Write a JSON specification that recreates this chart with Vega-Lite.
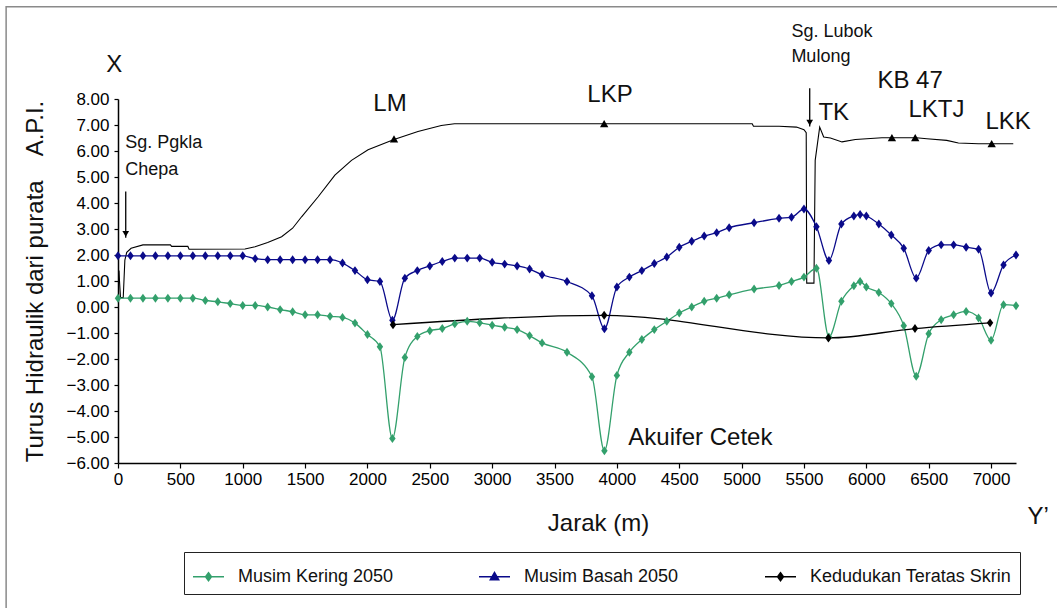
{
  "$schema": "https://vega.github.io/schema/vega-lite/v6.json",
  "autosize": {"type": "none"},
  "padding": {"left": 118, "top": 99, "right": 41, "bottom": 145},
  "width": 898,
  "height": 364,
  "background": "white",
  "config": {
    "view": {"stroke": null},
    "font": "Liberation Sans",
    "axis": {"grid": false, "domainColor": "#000", "domainWidth": 1.5, "tickColor": "#000", "tickWidth": 1.2, "labelFont": "Liberation Sans", "labelFontSize": 17, "labelColor": "#000", "titleFont": "Liberation Sans", "titleFontSize": 24, "titleFontWeight": "normal", "titleColor": "#111", "labelOverlap": false}
  },
  "datasets": {
    "kepala": [
      {"jarak": 0, "turus": 0.34, "siri": "Musim Kering 2050"},
      {"jarak": 100, "turus": 0.34, "siri": "Musim Kering 2050"},
      {"jarak": 200, "turus": 0.34, "siri": "Musim Kering 2050"},
      {"jarak": 300, "turus": 0.34, "siri": "Musim Kering 2050"},
      {"jarak": 400, "turus": 0.34, "siri": "Musim Kering 2050"},
      {"jarak": 500, "turus": 0.34, "siri": "Musim Kering 2050"},
      {"jarak": 600, "turus": 0.34, "siri": "Musim Kering 2050"},
      {"jarak": 700, "turus": 0.25, "siri": "Musim Kering 2050"},
      {"jarak": 800, "turus": 0.2, "siri": "Musim Kering 2050"},
      {"jarak": 900, "turus": 0.13, "siri": "Musim Kering 2050"},
      {"jarak": 1000, "turus": 0.06, "siri": "Musim Kering 2050"},
      {"jarak": 1100, "turus": 0.06, "siri": "Musim Kering 2050"},
      {"jarak": 1200, "turus": 0.0, "siri": "Musim Kering 2050"},
      {"jarak": 1300, "turus": -0.1, "siri": "Musim Kering 2050"},
      {"jarak": 1400, "turus": -0.18, "siri": "Musim Kering 2050"},
      {"jarak": 1500, "turus": -0.3, "siri": "Musim Kering 2050"},
      {"jarak": 1600, "turus": -0.3, "siri": "Musim Kering 2050"},
      {"jarak": 1700, "turus": -0.36, "siri": "Musim Kering 2050"},
      {"jarak": 1800, "turus": -0.4, "siri": "Musim Kering 2050"},
      {"jarak": 1900, "turus": -0.62, "siri": "Musim Kering 2050"},
      {"jarak": 2000, "turus": -1.06, "siri": "Musim Kering 2050"},
      {"jarak": 2100, "turus": -1.53, "siri": "Musim Kering 2050"},
      {"jarak": 2200, "turus": -5.06, "siri": "Musim Kering 2050"},
      {"jarak": 2300, "turus": -1.94, "siri": "Musim Kering 2050"},
      {"jarak": 2400, "turus": -1.13, "siri": "Musim Kering 2050"},
      {"jarak": 2500, "turus": -0.91, "siri": "Musim Kering 2050"},
      {"jarak": 2600, "turus": -0.83, "siri": "Musim Kering 2050"},
      {"jarak": 2700, "turus": -0.65, "siri": "Musim Kering 2050"},
      {"jarak": 2800, "turus": -0.55, "siri": "Musim Kering 2050"},
      {"jarak": 2900, "turus": -0.61, "siri": "Musim Kering 2050"},
      {"jarak": 3000, "turus": -0.7, "siri": "Musim Kering 2050"},
      {"jarak": 3100, "turus": -0.78, "siri": "Musim Kering 2050"},
      {"jarak": 3200, "turus": -0.87, "siri": "Musim Kering 2050"},
      {"jarak": 3300, "turus": -1.1, "siri": "Musim Kering 2050"},
      {"jarak": 3400, "turus": -1.38, "siri": "Musim Kering 2050"},
      {"jarak": 3600, "turus": -1.74, "siri": "Musim Kering 2050"},
      {"jarak": 3800, "turus": -2.68, "siri": "Musim Kering 2050"},
      {"jarak": 3900, "turus": -5.53, "siri": "Musim Kering 2050"},
      {"jarak": 4000, "turus": -2.63, "siri": "Musim Kering 2050"},
      {"jarak": 4100, "turus": -1.74, "siri": "Musim Kering 2050"},
      {"jarak": 4200, "turus": -1.25, "siri": "Musim Kering 2050"},
      {"jarak": 4300, "turus": -0.87, "siri": "Musim Kering 2050"},
      {"jarak": 4400, "turus": -0.55, "siri": "Musim Kering 2050"},
      {"jarak": 4500, "turus": -0.23, "siri": "Musim Kering 2050"},
      {"jarak": 4600, "turus": 0.0, "siri": "Musim Kering 2050"},
      {"jarak": 4700, "turus": 0.22, "siri": "Musim Kering 2050"},
      {"jarak": 4800, "turus": 0.34, "siri": "Musim Kering 2050"},
      {"jarak": 4900, "turus": 0.47, "siri": "Musim Kering 2050"},
      {"jarak": 5100, "turus": 0.69, "siri": "Musim Kering 2050"},
      {"jarak": 5300, "turus": 0.83, "siri": "Musim Kering 2050"},
      {"jarak": 5400, "turus": 0.98, "siri": "Musim Kering 2050"},
      {"jarak": 5500, "turus": 1.15, "siri": "Musim Kering 2050"},
      {"jarak": 5600, "turus": 1.49, "siri": "Musim Kering 2050"},
      {"jarak": 5700, "turus": -1.15, "siri": "Musim Kering 2050"},
      {"jarak": 5800, "turus": 0.22, "siri": "Musim Kering 2050"},
      {"jarak": 5900, "turus": 0.82, "siri": "Musim Kering 2050"},
      {"jarak": 5950, "turus": 0.98, "siri": "Musim Kering 2050"},
      {"jarak": 6000, "turus": 0.77, "siri": "Musim Kering 2050"},
      {"jarak": 6100, "turus": 0.56, "siri": "Musim Kering 2050"},
      {"jarak": 6200, "turus": 0.13, "siri": "Musim Kering 2050"},
      {"jarak": 6300, "turus": -0.72, "siri": "Musim Kering 2050"},
      {"jarak": 6400, "turus": -2.66, "siri": "Musim Kering 2050"},
      {"jarak": 6500, "turus": -1.03, "siri": "Musim Kering 2050"},
      {"jarak": 6600, "turus": -0.49, "siri": "Musim Kering 2050"},
      {"jarak": 6700, "turus": -0.3, "siri": "Musim Kering 2050"},
      {"jarak": 6800, "turus": -0.17, "siri": "Musim Kering 2050"},
      {"jarak": 6900, "turus": -0.42, "siri": "Musim Kering 2050"},
      {"jarak": 7000, "turus": -1.28, "siri": "Musim Kering 2050"},
      {"jarak": 7100, "turus": 0.09, "siri": "Musim Kering 2050"},
      {"jarak": 7200, "turus": 0.05, "siri": "Musim Kering 2050"},
      {"jarak": 0, "turus": 1.97, "siri": "Musim Basah 2050"},
      {"jarak": 100, "turus": 1.97, "siri": "Musim Basah 2050"},
      {"jarak": 200, "turus": 1.97, "siri": "Musim Basah 2050"},
      {"jarak": 300, "turus": 1.97, "siri": "Musim Basah 2050"},
      {"jarak": 400, "turus": 1.97, "siri": "Musim Basah 2050"},
      {"jarak": 500, "turus": 1.97, "siri": "Musim Basah 2050"},
      {"jarak": 600, "turus": 1.97, "siri": "Musim Basah 2050"},
      {"jarak": 700, "turus": 1.97, "siri": "Musim Basah 2050"},
      {"jarak": 800, "turus": 1.97, "siri": "Musim Basah 2050"},
      {"jarak": 900, "turus": 1.97, "siri": "Musim Basah 2050"},
      {"jarak": 1000, "turus": 1.97, "siri": "Musim Basah 2050"},
      {"jarak": 1100, "turus": 1.86, "siri": "Musim Basah 2050"},
      {"jarak": 1200, "turus": 1.82, "siri": "Musim Basah 2050"},
      {"jarak": 1300, "turus": 1.82, "siri": "Musim Basah 2050"},
      {"jarak": 1400, "turus": 1.82, "siri": "Musim Basah 2050"},
      {"jarak": 1500, "turus": 1.82, "siri": "Musim Basah 2050"},
      {"jarak": 1600, "turus": 1.82, "siri": "Musim Basah 2050"},
      {"jarak": 1700, "turus": 1.82, "siri": "Musim Basah 2050"},
      {"jarak": 1800, "turus": 1.69, "siri": "Musim Basah 2050"},
      {"jarak": 1900, "turus": 1.4, "siri": "Musim Basah 2050"},
      {"jarak": 2000, "turus": 1.05, "siri": "Musim Basah 2050"},
      {"jarak": 2100, "turus": 0.98, "siri": "Musim Basah 2050"},
      {"jarak": 2200, "turus": -0.51, "siri": "Musim Basah 2050"},
      {"jarak": 2300, "turus": 1.11, "siri": "Musim Basah 2050"},
      {"jarak": 2400, "turus": 1.4, "siri": "Musim Basah 2050"},
      {"jarak": 2500, "turus": 1.58, "siri": "Musim Basah 2050"},
      {"jarak": 2600, "turus": 1.75, "siri": "Musim Basah 2050"},
      {"jarak": 2700, "turus": 1.88, "siri": "Musim Basah 2050"},
      {"jarak": 2800, "turus": 1.88, "siri": "Musim Basah 2050"},
      {"jarak": 2900, "turus": 1.88, "siri": "Musim Basah 2050"},
      {"jarak": 3000, "turus": 1.72, "siri": "Musim Basah 2050"},
      {"jarak": 3100, "turus": 1.65, "siri": "Musim Basah 2050"},
      {"jarak": 3200, "turus": 1.58, "siri": "Musim Basah 2050"},
      {"jarak": 3300, "turus": 1.46, "siri": "Musim Basah 2050"},
      {"jarak": 3400, "turus": 1.24, "siri": "Musim Basah 2050"},
      {"jarak": 3600, "turus": 0.98, "siri": "Musim Basah 2050"},
      {"jarak": 3800, "turus": 0.43, "siri": "Musim Basah 2050"},
      {"jarak": 3900, "turus": -0.84, "siri": "Musim Basah 2050"},
      {"jarak": 4000, "turus": 0.77, "siri": "Musim Basah 2050"},
      {"jarak": 4100, "turus": 1.15, "siri": "Musim Basah 2050"},
      {"jarak": 4200, "turus": 1.4, "siri": "Musim Basah 2050"},
      {"jarak": 4300, "turus": 1.67, "siri": "Musim Basah 2050"},
      {"jarak": 4400, "turus": 1.92, "siri": "Musim Basah 2050"},
      {"jarak": 4500, "turus": 2.3, "siri": "Musim Basah 2050"},
      {"jarak": 4600, "turus": 2.53, "siri": "Musim Basah 2050"},
      {"jarak": 4700, "turus": 2.73, "siri": "Musim Basah 2050"},
      {"jarak": 4800, "turus": 2.86, "siri": "Musim Basah 2050"},
      {"jarak": 4900, "turus": 3.05, "siri": "Musim Basah 2050"},
      {"jarak": 5100, "turus": 3.24, "siri": "Musim Basah 2050"},
      {"jarak": 5300, "turus": 3.41, "siri": "Musim Basah 2050"},
      {"jarak": 5400, "turus": 3.45, "siri": "Musim Basah 2050"},
      {"jarak": 5500, "turus": 3.77, "siri": "Musim Basah 2050"},
      {"jarak": 5600, "turus": 3.09, "siri": "Musim Basah 2050"},
      {"jarak": 5700, "turus": 1.79, "siri": "Musim Basah 2050"},
      {"jarak": 5800, "turus": 3.19, "siri": "Musim Basah 2050"},
      {"jarak": 5900, "turus": 3.5, "siri": "Musim Basah 2050"},
      {"jarak": 5950, "turus": 3.56, "siri": "Musim Basah 2050"},
      {"jarak": 6000, "turus": 3.5, "siri": "Musim Basah 2050"},
      {"jarak": 6100, "turus": 3.19, "siri": "Musim Basah 2050"},
      {"jarak": 6200, "turus": 2.77, "siri": "Musim Basah 2050"},
      {"jarak": 6300, "turus": 2.26, "siri": "Musim Basah 2050"},
      {"jarak": 6400, "turus": 1.11, "siri": "Musim Basah 2050"},
      {"jarak": 6500, "turus": 2.17, "siri": "Musim Basah 2050"},
      {"jarak": 6600, "turus": 2.39, "siri": "Musim Basah 2050"},
      {"jarak": 6700, "turus": 2.39, "siri": "Musim Basah 2050"},
      {"jarak": 6800, "turus": 2.3, "siri": "Musim Basah 2050"},
      {"jarak": 6900, "turus": 2.22, "siri": "Musim Basah 2050"},
      {"jarak": 7000, "turus": 0.54, "siri": "Musim Basah 2050"},
      {"jarak": 7100, "turus": 1.62, "siri": "Musim Basah 2050"},
      {"jarak": 7200, "turus": 2.0, "siri": "Musim Basah 2050"},
      {"jarak": 2205, "turus": -0.68, "siri": "Kedudukan Teratas Skrin"},
      {"jarak": 3898, "turus": -0.32, "siri": "Kedudukan Teratas Skrin"},
      {"jarak": 5696, "turus": -1.19, "siri": "Kedudukan Teratas Skrin"},
      {"jarak": 6390, "turus": -0.83, "siri": "Kedudukan Teratas Skrin"},
      {"jarak": 6992, "turus": -0.61, "siri": "Kedudukan Teratas Skrin"}
    ],
    "permukaan": [
      {"jarak": 8, "turus": 1.4}, {"jarak": 12, "turus": 1.0}, {"jarak": 20, "turus": 0.36},
      {"jarak": 42, "turus": 0.36}, {"jarak": 55, "turus": 1.8}, {"jarak": 70, "turus": 2.1},
      {"jarak": 105, "turus": 2.26}, {"jarak": 200, "turus": 2.39}, {"jarak": 420, "turus": 2.39},
      {"jarak": 430, "turus": 2.33}, {"jarak": 560, "turus": 2.33}, {"jarak": 570, "turus": 2.22},
      {"jarak": 1018, "turus": 2.23}, {"jarak": 1099, "turus": 2.32}, {"jarak": 1200, "turus": 2.48},
      {"jarak": 1312, "turus": 2.7}, {"jarak": 1400, "turus": 3.03}, {"jarak": 1472, "turus": 3.47},
      {"jarak": 1605, "turus": 4.24}, {"jarak": 1739, "turus": 5.07}, {"jarak": 1872, "turus": 5.64},
      {"jarak": 2005, "turus": 6.05}, {"jarak": 2213, "turus": 6.44}, {"jarak": 2405, "turus": 6.75},
      {"jarak": 2592, "turus": 6.98}, {"jarak": 2698, "turus": 7.05}, {"jarak": 5085, "turus": 7.05},
      {"jarak": 5095, "turus": 6.95}, {"jarak": 5300, "turus": 6.95}, {"jarak": 5440, "turus": 6.92},
      {"jarak": 5500, "turus": 6.82}, {"jarak": 5518, "turus": 6.7}, {"jarak": 5522, "turus": 0.92},
      {"jarak": 5580, "turus": 0.92}, {"jarak": 5590, "turus": 5.64}, {"jarak": 5626, "turus": 6.92},
      {"jarak": 5658, "turus": 6.54}, {"jarak": 5712, "turus": 6.5}, {"jarak": 5805, "turus": 6.35},
      {"jarak": 5912, "turus": 6.44}, {"jarak": 6125, "turus": 6.51}, {"jarak": 6400, "turus": 6.51},
      {"jarak": 6485, "turus": 6.47}, {"jarak": 6645, "turus": 6.41}, {"jarak": 6738, "turus": 6.31},
      {"jarak": 6898, "turus": 6.28}, {"jarak": 7178, "turus": 6.28}
    ],
    "telaga": [
      {"jarak": 2213, "turus": 6.47, "nama": "LM"},
      {"jarak": 3898, "turus": 7.05, "nama": "LKP"},
      {"jarak": 6205, "turus": 6.51, "nama": "KB 47"},
      {"jarak": 6392, "turus": 6.51, "nama": "LKTJ"},
      {"jarak": 7005, "turus": 6.28, "nama": "LKK"}
    ],
    "panah": [
      {"jarak": 62, "turus": 4.44, "turus2": 2.66, "nama": "Sg. Pgkla Chepa"},
      {"jarak": 5546, "turus": 8.41, "turus2": 6.94, "nama": "Sg. Lubok Mulong"}
    ],
    "label": [
      {"jarak": -95, "turus": 9.31, "teks": "X", "jenis": "utama"},
      {"jarak": 58, "turus": 6.31, "teks": "Sg. Pgkla", "jenis": "sungai"},
      {"jarak": 58, "turus": 5.27, "teks": "Chepa", "jenis": "sungai"},
      {"jarak": 2047, "turus": 7.81, "teks": "LM", "jenis": "utama"},
      {"jarak": 3763, "turus": 8.16, "teks": "LKP", "jenis": "utama"},
      {"jarak": 5399, "turus": 10.58, "teks": "Sg. Lubok", "jenis": "sungai"},
      {"jarak": 5399, "turus": 9.62, "teks": "Mulong", "jenis": "sungai"},
      {"jarak": 5616, "turus": 7.46, "teks": "TK", "jenis": "utama"},
      {"jarak": 6089, "turus": 8.69, "teks": "KB 47", "jenis": "utama"},
      {"jarak": 6338, "turus": 7.58, "teks": "LKTJ", "jenis": "utama"},
      {"jarak": 6955, "turus": 7.12, "teks": "LKK", "jenis": "utama"},
      {"jarak": 4092, "turus": -5.03, "teks": "Akuifer Cetek", "jenis": "utama"},
      {"jarak": 7292, "turus": -8.06, "teks": "Y’", "jenis": "utama"}
    ],
    "bingkai": [
      {"jarak": -897, "jarak2": 7700, "turus": 11.55, "turus2": -12.5}
    ]
  },
  "encoding": {
    "x": {
      "field": "jarak", "type": "quantitative", "title": "Jarak (m)",
      "scale": {"domain": [0, 7200], "nice": false, "zero": false},
      "axis": {"values": [0, 500, 1000, 1500, 2000, 2500, 3000, 3500, 4000, 4500, 5000, 5500, 6000, 6500, 7000], "tickCount": 30, "format": "d", "tickSize": 5, "labelPadding": 3, "labelFlush": false, "labelOverlap": false, "titleX": 480, "titleY": 60, "titleBaseline": "middle", "titleAlign": "center"}
    },
    "y": {
      "field": "turus", "type": "quantitative", "title": "Turus Hidraulik dari purata\u2003A.P.I.",
      "scale": {"domain": [-6, 8], "nice": false, "zero": false},
      "axis": {"values": [-6, -5, -4, -3, -2, -1, 0, 1, 2, 3, 4, 5, 6, 7, 8], "tickCount": 30, "format": ".2f", "tickSize": 4, "labelPadding": 5, "labelOverlap": false, "titleX": -83, "titleY": 182, "titleBaseline": "middle", "titleAlign": "center", "titleAngle": -90}
    }
  },
  "layer": [
    {
      "data": {"name": "bingkai"},
      "mark": {"type": "rect", "fill": null, "fillOpacity": 0, "stroke": "#8a8a8a", "strokeWidth": 1.5},
      "encoding": {
        "x2": {"field": "jarak2"},
        "y2": {"field": "turus2"}
      }
    },
    {
      "data": {"name": "permukaan"},
      "mark": {"type": "line", "color": "#000", "strokeWidth": 1.1}
    },
    {
      "data": {"name": "kepala"},
      "mark": {"type": "line", "interpolate": "monotone", "strokeWidth": 1.3},
      "encoding": {
        "color": {
          "field": "siri", "type": "nominal",
          "scale": {"domain": ["Musim Kering 2050", "Musim Basah 2050", "Kedudukan Teratas Skrin"], "range": ["#33a06c", "#0a0a8a", "#000000"]},
          "legend": {
            "title": null, "orient": "none", "legendX": 66, "legendY": 453, "direction": "horizontal",
            "gridAlign": "all", "columnPadding": 36, "padding": 8,
            "strokeColor": "#222", "fillColor": "#ffffff",
            "symbolSize": 961, "symbolStrokeWidth": 1.5, "symbolType": "M-1,0L1,0",
            "labelFont": "Liberation Sans", "labelFontSize": 18, "labelColor": "#111", "labelOffset": 13, "labelLimit": 400,
            "encode": {
              "symbols": {
                "update": {
                  "shape": {"signal": "datum.value === 'Musim Basah 2050' ? 'M-1,0L1,0M-0.27,0.2L0.27,0.2L0,-0.27Z' : 'M-1,0L1,0M0,-0.26L0.19,0L0,0.26L-0.19,0Z'"},
                  "stroke": {"signal": "datum.value === 'Musim Kering 2050' ? '#33a06c' : datum.value === 'Musim Basah 2050' ? '#0a0a8a' : '#000000'"},
                  "fill": {"signal": "datum.value === 'Musim Kering 2050' ? '#33a06c' : datum.value === 'Musim Basah 2050' ? '#0a0a8a' : '#000000'"},
                  "fillOpacity": {"value": 1},
                  "strokeWidth": {"value": 1.5}
                }
              }
            }
          }
        }
      }
    },
    {
      "data": {"name": "kepala"},
      "mark": {"type": "point", "filled": true, "opacity": 1, "size": 80, "shape": "M0,-1L0.72,0L0,1L-0.72,0Z"},
      "encoding": {
        "color": {"field": "siri", "type": "nominal"}
      }
    },
    {
      "data": {"name": "telaga"},
      "mark": {"type": "point", "filled": true, "shape": "triangle-up", "size": 70, "color": "#000", "opacity": 1}
    },
    {
      "data": {"name": "panah"},
      "mark": {"type": "rule", "color": "#000", "strokeWidth": 1.3},
      "encoding": {
        "y2": {"field": "turus2"}
      }
    },
    {
      "data": {"name": "panah"},
      "mark": {"type": "point", "filled": true, "shape": "triangle-down", "size": 45, "color": "#000", "opacity": 1, "yOffset": -4},
      "encoding": {
        "y": {"field": "turus2", "type": "quantitative"}
      }
    },
    {
      "data": {"name": "label"},
      "transform": [{"filter": "datum.jenis === 'utama'"}],
      "mark": {"type": "text", "align": "left", "baseline": "middle", "font": "Liberation Sans", "fontSize": 24, "color": "#111"},
      "encoding": {
        "text": {"field": "teks"}
      }
    },
    {
      "data": {"name": "label"},
      "transform": [{"filter": "datum.jenis === 'sungai'"}],
      "mark": {"type": "text", "align": "left", "baseline": "middle", "font": "Liberation Sans", "fontSize": 18, "color": "#111"},
      "encoding": {
        "text": {"field": "teks"}
      }
    }
  ]
}
